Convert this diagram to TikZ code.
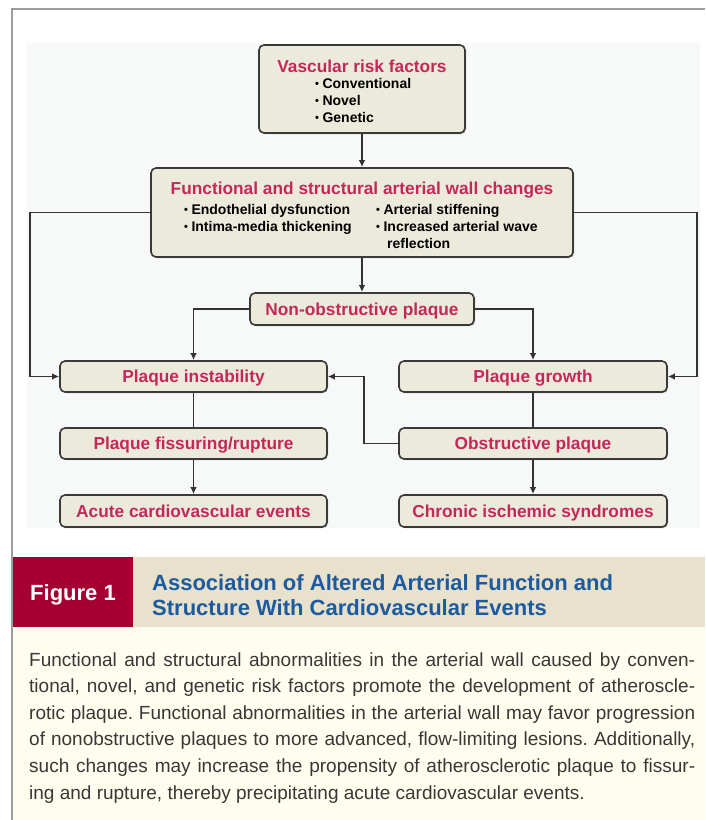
\documentclass[tikz,border=0pt]{standalone}
\usepackage{fontspec}
\setmainfont{Liberation Sans}
\usetikzlibrary{arrows.meta,shadows}
\definecolor{framegray}{HTML}{9C9C9C}
\definecolor{diagbg}{HTML}{F7F9F9}
\definecolor{boxfill}{HTML}{ECEADA}
\definecolor{boxline}{HTML}{3A3A3A}
\definecolor{ttlred}{HTML}{C4285A}
\definecolor{figred}{HTML}{A50034}
\definecolor{bandtan}{HTML}{E8E1CB}
\definecolor{capcream}{HTML}{FFFDEE}
\definecolor{capblue}{HTML}{1E5A9E}
\definecolor{bodytext}{HTML}{383838}
\definecolor{conncol}{HTML}{333333}
\newcommand{\smbul}{\raisebox{0.8pt}{\fontsize{11}{11}\selectfont •}\hspace{3.5pt}}
\frenchspacing
\begin{document}
\begin{tikzpicture}[x=1pt,y=-1pt,
  nodebox/.style={draw=boxline, line width=1.6pt, fill=boxfill, rounded corners=5pt, inner sep=0pt,
    drop shadow={shadow xshift=1pt,shadow yshift=-1pt,opacity=0.35,fill=black}},
  ttl/.style={text=ttlred, font=\fontsize{17.3}{20}\selectfont\bfseries, inner sep=0pt},
  boxttl/.style={nodebox, ttl, text height=12.4pt, text depth=0pt},
  bul/.style={text=black, font=\fontsize{14}{17}\selectfont\bfseries, inner sep=0pt, anchor=base west},
  conn/.style={draw=conncol, line width=1.5pt},
  arr/.style={conn, -{Latex[length=7pt,width=6.5pt]}},
  bodyline/.style={text=bodytext, font=\fontsize{19}{22}\selectfont\frenchspacing, inner sep=0pt, anchor=base west},
  capttl/.style={text=capblue, font=\fontsize{22}{25}\selectfont\bfseries, inner sep=0pt, anchor=base west}
]
\useasboundingbox (0,0) rectangle (705,820);
% backgrounds
\fill[white] (0,0) rectangle (705,820);
\fill[diagbg] (27,43) rectangle (700,528);
\fill[figred] (13,557) rectangle (133,627);
\fill[bandtan] (133,557) rectangle (705,627);
\fill[capcream] (13,627) rectangle (705,820);
\draw[framegray, line width=2pt] (12,820) -- (12,9) -- (705,9);

% boxes
\node[nodebox, minimum width=206pt, minimum height=88pt] (vrf) at (362,89) {};
\node[ttl, anchor=base] (vrft) at (362,72) {Vascular risk factors};
\node[bul] (vrf1) at (315,88) {\smbul Conventional};
\node[bul] (vrf2) at (315,105) {\smbul Novel};
\node[bul] (vrf3) at (315,122) {\smbul Genetic};

\node[nodebox, minimum width=422pt, minimum height=89pt] (fsw) at (362,212.5) {};
\node[ttl, anchor=base] (fswt) at (362,194) {Functional and structural arterial wall changes};
\node[bul] (fsw1) at (184,214) {\smbul Endothelial dysfunction};
\node[bul] (fsw2) at (184,231) {\smbul Intima-media thickening};
\node[bul] (fsw3) at (376,214) {\smbul Arterial stiffening};
\node[bul] (fsw4) at (376,231) {\smbul Increased arterial wave};
\node[bul] (fsw5) at (387,248) {reflection};

\node[boxttl, minimum width=224pt, minimum height=32pt] (nop) at (362,309) {Non-obstructive plaque};
\node[boxttl, minimum width=267pt, minimum height=31pt] (pi) at (193.5,376.5) {Plaque instability};
\node[boxttl, minimum width=268pt, minimum height=31pt] (pg) at (533,376.5) {Plaque growth};
\node[boxttl, minimum width=267pt, minimum height=31pt] (pf) at (193.5,443.5) {Plaque fissuring/rupture};
\node[boxttl, minimum width=268pt, minimum height=31pt] (op) at (533,443.5) {Obstructive plaque};
\node[boxttl, minimum width=267pt, minimum height=32pt] (ace) at (193.5,511) {Acute cardiovascular events};
\node[boxttl, minimum width=268pt, minimum height=32pt] (cis) at (533,511) {Chronic ischemic syndromes};

% connectors
\draw[arr] (vrf.south) -- (fsw.north);
\draw[arr] (fsw.south) -- (nop.north);
\draw[arr] (fsw.west) -| (30,376.5) -- (pi.west);
\draw[arr] (fsw.east) -| (697,376.5) -- (pg.east);
\draw[arr] (nop.west) -| (pi.north);
\draw[arr] (nop.east) -| (pg.north);
\draw[conn] (pi.south) -- (pf.north);
\draw[arr] (pf.south) -- (ace.north);
\draw[conn] (pg.south) -- (op.north);
\draw[arr] (op.south) -- (cis.north);
\draw[arr] (op.west) -- (364,443.5) |- (pi.east);

% caption
\node[text=white, font=\fontsize{22}{25}\selectfont\bfseries, inner sep=0pt, anchor=base] (fig) at (73,600) {Figure 1};
\node[capttl] (ct1) at (152,590) {Association of Altered Arterial Function and};
\node[capttl] (ct2) at (152,615) {Structure With Cardiovascular Events};

\node[bodyline] (b1) at (29,666) {\makebox[666pt][s]{Functional and structural abnormalities in the arterial wall caused by conven-}};
\node[bodyline] (b2) at (29,692.6) {\makebox[666pt][s]{tional, novel, and genetic risk factors promote the development of atheroscle-}};
\node[bodyline] (b3) at (29,719.2) {\makebox[666pt][s]{rotic plaque. Functional abnormalities in the arterial wall may favor progression}};
\node[bodyline] (b4) at (29,745.8) {\makebox[666pt][s]{of nonobstructive plaques to more advanced, flow-limiting lesions. Additionally,}};
\node[bodyline] (b5) at (29,772.4) {\makebox[666pt][s]{such changes may increase the propensity of atherosclerotic plaque to fissur-}};
\node[bodyline] (b6) at (29,799) {ing and rupture, thereby precipitating acute cardiovascular events.};
\end{tikzpicture}
\end{document}
